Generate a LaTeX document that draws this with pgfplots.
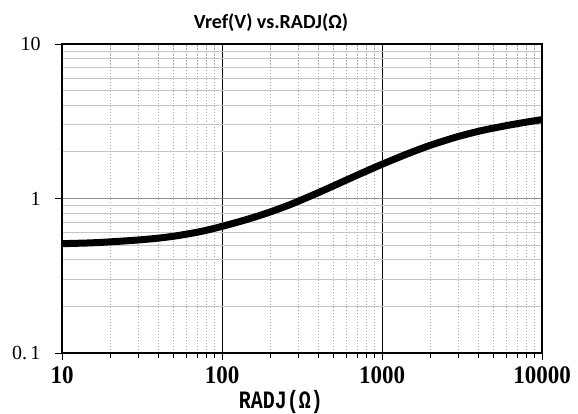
\documentclass[border=0pt]{standalone}
\usepackage{fontspec}
\setmainfont{Liberation Serif}
\newfontfamily\titlefont{Carlito}
\newfontfamily\labfont{Liberation Mono}
\usepackage{pgfplots}
\pgfplotsset{compat=1.18}
\newcommand{\xl}[1]{\scalebox{1}[1.1]{#1}}
\begin{document}
\begin{tikzpicture}[x=1pt,y=1pt]
\useasboundingbox (0,0) rectangle (578,413);
\begin{axis}[
  at={(62pt,60pt)}, anchor=south west,
  scale only axis, width=480pt, height=309pt,
  xmode=log, ymode=log,
  xmin=10, xmax=10000, ymin=0.1, ymax=10,
  xtick={10,100,1000,10000},
  xticklabels={\xl{10},\xl{100},\xl{1000},\xl{10000}},
  minor xtick={20,30,40,50,60,70,80,90,200,300,400,500,600,700,800,900,2000,3000,4000,5000,6000,7000,8000,9000},
  ytick={0.1,1,10},
  yticklabels={0.\,1,1,10},
  minor ytick={0.2,0.3,0.4,0.5,0.6,0.7,0.8,0.9,2,3,4,5,6,7,8,9},
  tick pos=left,
  tick align=outside,
  major tick length=7pt, minor tick length=5pt,
  minor y tick style={draw=none},
  every tick/.style={black, line width=0.9pt},
  grid=both,
  major x grid style={black, line width=0.9pt, solid},
  minor x grid style={gray!70, line width=1pt, dash pattern=on 1.5pt off 1.5pt},
  major y grid style={gray!90, line width=1.3pt, solid},
  minor y grid style={gray!45, line width=1pt, solid},
  axis line style={black, line width=1.3pt},
  xticklabel style={font=\fontsize{23}{23}\selectfont\bfseries, yshift=-3pt},
  yticklabel style={font=\fontsize{20}{20}\selectfont, xshift=-11pt},
  title={\titlefont\bfseries Vref(V) vs.RADJ(Ω)},
  title style={font=\fontsize{20}{20}\selectfont, yshift=3pt, xshift=-31pt},
  xlabel={\scalebox{1}[1.25]{\labfont\bfseries RADJ(Ω)}},
  xlabel style={font=\fontsize{20}{20}\selectfont, yshift=0pt, xshift=-21pt},
]
\addplot[black, line width=7pt, line join=round, smooth] coordinates {
(10,0.510) (15,0.516) (20,0.524) (30,0.539) (40,0.554) (50,0.570)
(60,0.588) (70,0.605) (80,0.623) (100,0.660) (130,0.711) (160,0.758)
(200,0.818) (250,0.890) (300,0.960) (400,1.091) (500,1.210) (600,1.318)
(700,1.416) (800,1.506) (1000,1.665) (1300,1.864) (1600,2.029)
(2000,2.209) (2500,2.380) (3000,2.520) (4000,2.722) (5000,2.858)
(6000,2.964) (7000,3.050) (8000,3.123) (9000,3.185) (10000,3.240)
};
\end{axis}
\end{tikzpicture}
\end{document}
